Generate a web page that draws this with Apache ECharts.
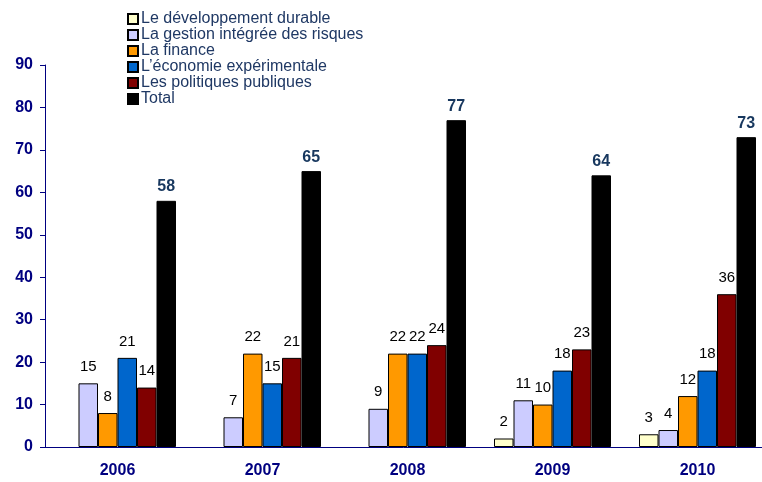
<!DOCTYPE html>
<html>
<head>
    <meta charset="utf-8" />
    <title>Publications</title>
    <script src="https://cdn.jsdelivr.net/npm/echarts@6/dist/echarts.min.js"></script>
    <style>
        html, body { margin: 0; padding: 0; background: #fff; }
        #chart1 { width: 762px; height: 482px; }
    </style>
</head>
<body>
    <div id="chart1"></div>
    <script type="text/javascript">
        // données
        var years = ['2006', '2007', '2008', '2009', '2010'];
        var devDurable = [0, 0, 0, 2, 3];
        var gestionRisques = [15, 7, 9, 11, 4];
        var finance = [8, 22, 22, 10, 12];
        var ecoExp = [21, 15, 22, 18, 18];
        var politiques = [14, 21, 24, 23, 36];
        var total = [58, 65, 77, 64, 73];
        var yTicks = [0, 10, 20, 30, 40, 50, 60, 70, 80, 90];

        var navy = '#000080';
        var font = 'Arial, "Liberation Sans", sans-serif';

        function mkSeries(name, data, color, isTotal) {
            return {
                name: name,
                type: 'bar',
                data: data.map(function (v) { return v === 0 ? '-' : v; }),
                barWidth: 19.5,
                barGap: '0%',
                itemStyle: { color: color, borderColor: '#000', borderWidth: 1 },
                label: {
                    show: true,
                    position: 'top',
                    distance: isTotal ? 6 : 9,
                    color: isTotal ? '#17375E' : '#000',
                    fontSize: isTotal ? 16 : 15,
                    fontWeight: isTotal ? 'bold' : 'normal',
                    fontFamily: font
                }
            };
        }

        var myChart1 = echarts.init(document.getElementById('chart1'));
        var option = {
            animation: false,
            legend: {
                orient: 'vertical',
                left: 122,
                top: 6,
                itemWidth: 10,
                itemHeight: 10,
                itemGap: 0,
                icon: 'rect',
                textStyle: { color: '#1F3864', fontSize: 16, fontFamily: font, padding: [0, 0, 0, -2], lineHeight: 16 },
                data: ['Le développement durable', 'La gestion intégrée des risques', 'La finance',
                    'L’économie expérimentale', 'Les politiques publiques', 'Total']
            },
            grid: { left: 45, width: 725, top: 65, bottom: 35, containLabel: false, outerBoundsMode: 'none' },
            xAxis: {
                type: 'category',
                data: years,
                axisLine: { lineStyle: { color: navy, width: 1 } },
                axisTick: { alignWithLabel: false, length: 5, lineStyle: { color: navy } },
                axisLabel: { color: navy, fontWeight: 'bold', fontSize: 16, fontFamily: font, margin: 16 }
            },
            yAxis: {
                type: 'value',
                min: yTicks[0],
                max: yTicks[yTicks.length - 1],
                interval: 10,
                splitLine: { show: false },
                axisLine: { show: true, lineStyle: { color: navy, width: 1 } },
                axisTick: { show: true, length: 5, lineStyle: { color: navy } },
                axisLabel: { color: navy, fontWeight: 'bold', fontSize: 16, fontFamily: font, margin: 12 }
            },
            series: [
                mkSeries('Le développement durable', devDurable, '#FFFFCC'),
                mkSeries('La gestion intégrée des risques', gestionRisques, '#CCCCFF'),
                mkSeries('La finance', finance, '#FF9900'),
                mkSeries('L’économie expérimentale', ecoExp, '#0066CC'),
                mkSeries('Les politiques publiques', politiques, '#800000'),
                mkSeries('Total', total, '#000000', true)
            ]
        };
        myChart1.setOption(option);
    </script>
</body>
</html>
